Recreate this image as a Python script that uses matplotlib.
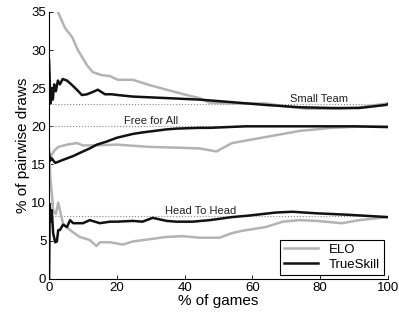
import matplotlib
matplotlib.use("Agg")
import matplotlib.pyplot as plt

plt.rcParams['font.family'] = ['Liberation Sans', 'DejaVu Sans']

# Small Team
st_elo_x = [1.0, 2.6, 4.7, 6.8, 8.5, 11.2, 12.9, 15.6, 17.9, 20.3, 24.7, 29.7, 34.7, 40.6, 44.4, 47.4,
            53, 64, 70, 76, 85.6, 92, 98.2, 100]
st_elo_y = [40, 35, 32.9, 31.7, 30.0, 28.0, 27.1, 26.7, 26.6, 26.1, 26.1, 25.4, 24.8, 24.1, 23.7, 23.1,
            23.0, 23.0, 22.6, 22.3, 22.3, 22.5, 22.9, 23.0]
st_ts_x = [0, 0.4, 0.8, 1.1, 1.5, 2.0, 2.6, 3.2, 4.0, 5.3, 6.8, 8.2, 9.7, 11.2, 12.9, 14.4, 16.5, 18.5,
           20.3, 24.7, 34.7, 44.4, 53, 64, 74, 83.5, 91.5, 99.4, 100]
st_ts_y = [28.7, 23.0, 25.0, 23.5, 25.5, 24.6, 26.0, 25.5, 26.2, 26.0, 25.4, 24.8, 24.1, 24.2, 24.5, 24.8,
           24.2, 24.2, 24.1, 23.9, 23.7, 23.5, 23.2, 22.8, 22.5, 22.4, 22.4, 22.8, 22.9]

# Free for All
ffa_elo_x = [0.5, 1.5, 2.7, 5.3, 8.2, 10, 13, 20, 29.7, 38, 44.4, 47, 49.4, 54, 64, 74, 83.5, 93.5, 100]
ffa_elo_y = [16.0, 16.8, 17.3, 17.6, 17.8, 17.5, 17.5, 17.6, 17.3, 17.2, 17.1, 16.9, 16.7, 17.8, 18.6,
             19.4, 19.8, 20.0, 20.0]
ffa_ts_x = [0, 0.3, 0.8, 1.8, 4.1, 7.1, 9.5, 12, 14.1, 17, 20, 24.7, 27.6, 34.7, 37.6, 44.4, 47.4, 58,
            70, 80, 90, 100]
ffa_ts_y = [16.5, 15.5, 15.8, 15.2, 15.6, 16.1, 16.6, 17.1, 17.6, 18.0, 18.5, 19.0, 19.2, 19.6, 19.7,
            19.8, 19.8, 20.0, 20.0, 20.0, 20.0, 19.9]

# Head To Head
h2h_elo_x = [0, 0.4, 0.8, 1.2, 2.0, 2.7, 3.2, 4.1, 5.3, 6.8, 9, 12, 14, 15, 18, 21.8, 24.7, 29.7, 34.7,
             39.4, 44.4, 50.3, 54, 57, 64, 69, 74, 79, 86.5, 91.5, 100]
h2h_elo_y = [17, 13, 11.3, 9.0, 8.5, 10.0, 9.0, 7.3, 6.7, 6.2, 5.5, 5.1, 4.3, 4.8, 4.8, 4.5, 4.9, 5.2,
             5.5, 5.6, 5.4, 5.4, 6.0, 6.3, 6.8, 7.5, 7.7, 7.6, 7.3, 7.7, 8.1]
h2h_ts_x = [0, 0.2, 0.5, 0.8, 1.2, 1.8, 2.3, 2.7, 3.2, 4.1, 5.3, 6.2, 7.1, 10, 12, 15, 18, 20, 24.7,
            27.6, 30.6, 34.7, 37.6, 42.4, 47.4, 54, 59, 67, 71.8, 78.8, 88.5, 100]
h2h_ts_y = [0, 9.7, 7.5, 9.0, 6.0, 4.8, 4.9, 6.4, 6.4, 7.1, 6.8, 7.7, 7.3, 7.3, 7.7, 7.3, 7.5, 7.5, 7.6,
            7.5, 8.0, 7.6, 7.5, 7.5, 7.7, 8.1, 8.3, 8.7, 8.8, 8.6, 8.4, 8.1]

ref_levels = [22.9, 20.0, 8.2]
labels = ["Small Team", "Free for All", "Head To Head"]
label_pos = [(79.7, 23.6), (30, 20.7), (44.7, 8.9)]

gray = '#b3b3b3'

fig = plt.figure(figsize=(3.99, 3.13), dpi=100)
ax = fig.add_axes([0.123, 0.109, 0.849, 0.853])

for lv in ref_levels:
    ax.plot([0, 100], [lv, lv], ls=':', color='#888888', lw=0.8)

ax.plot(st_elo_x, st_elo_y, color=gray, lw=1.8)
ax.plot(ffa_elo_x, ffa_elo_y, color=gray, lw=1.8)
ax.plot(h2h_elo_x, h2h_elo_y, color=gray, lw=1.8, label='ELO')
ax.plot(st_ts_x, st_ts_y, color='#111111', lw=1.8)
ax.plot(ffa_ts_x, ffa_ts_y, color='#111111', lw=1.8)
ax.plot(h2h_ts_x, h2h_ts_y, color='#111111', lw=1.8, label='TrueSkill')

for txt, (tx, ty) in zip(labels, label_pos):
    ax.text(tx, ty, txt, fontsize=8, ha='center', va='center', color='#222222')

ax.set_xlim(0, 100)
ax.set_ylim(0, 35)
ax.set_xticks([0, 20, 40, 60, 80, 100])
ax.set_yticks([0, 5, 10, 15, 20, 25, 30, 35])
ax.spines['top'].set_visible(False)
ax.spines['right'].set_visible(False)
ax.tick_params(direction='in', length=3, labelsize=9.5, width=0.6, pad=2)
ax.set_xlabel('% of games', fontsize=11, labelpad=0)
ax.set_ylabel('% of pairwise draws', fontsize=11, labelpad=1)

leg = ax.legend(loc='lower right', fontsize=9.5, fancybox=False, framealpha=1,
                edgecolor='black', handlelength=2.6, borderpad=0.3, labelspacing=0.2,
                borderaxespad=0.3)
leg.get_frame().set_linewidth(0.8)

fig.savefig('out.png', dpi=100)
